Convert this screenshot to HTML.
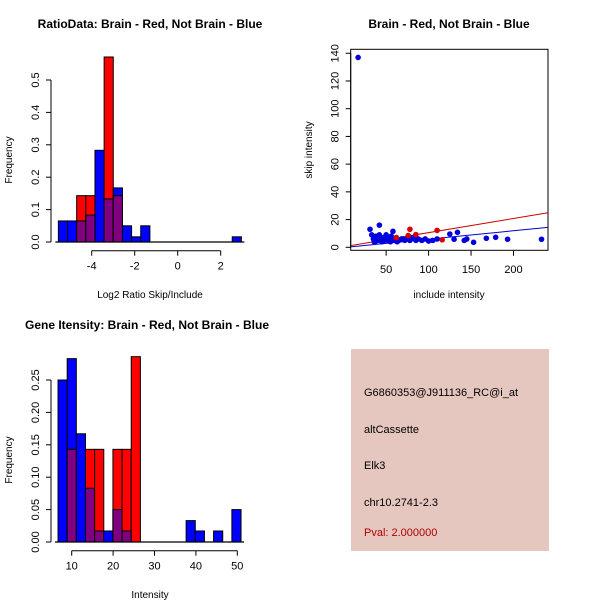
<!DOCTYPE html>
<html><head><meta charset="utf-8"><style>
html,body{margin:0;padding:0;background:#fff;}
svg{display:block;font-family:"Liberation Sans",Arial,sans-serif;}
</style></head><body>
<svg id="c" width="600" height="600" xmlns="http://www.w3.org/2000/svg">
<rect width="600" height="600" fill="#fff"/>
<rect x="351" y="349" width="198" height="202" fill="#e5c7c0"/>
<text x="364" y="396" font-size="11">G6860353@J911136_RC@i_at</text>
<text x="364" y="433" font-size="11">altCassette</text>
<text x="364" y="469" font-size="11">Elk3</text>
<text x="364" y="506" font-size="11">chr10.2741-2.3</text>
<text x="364" y="536" font-size="11" fill="#b00000">Pval: 2.000000</text>
</svg>
<script>
// ---- Ratio histogram data ----
const ratioStart = -5.55, ratioBinW = 0.4256;
const ratioBlue = [0.065,0.065,0.065,0.083,0.283,0.133,0.167,0.05,0.016,0.05,0,0,0,0,0,0,0,0,0,0.016];
const ratioRed  = [0,0,0.143,0.143,0,0.571,0.143,0,0,0,0,0,0,0,0,0,0,0,0,0];
const ratioXTicks = [-4,-2,0,2];
const ratioYTicks = [0,0.1,0.2,0.3,0.4,0.5];
const ratioYLabels = ["0.0","0.1","0.2","0.3","0.4","0.5"];
// ---- Intensity histogram data ----
const intStart = 6.7, intBinW = 2.21;
const intBlue = [0.25,0.283,0.167,0.083,0.017,0.017,0.05,0.017,0,0,0,0,0,0,0.033,0.017,0,0.017,0,0.05];
const intRed  = [0,0.143,0,0.143,0.143,0,0.143,0.143,0.286,0,0,0,0,0,0,0,0,0,0,0];
const intXTicks = [10,20,30,40,50];
const intYTicks = [0,0.05,0.10,0.15,0.20,0.25];
const intYLabels = ["0.00","0.05","0.10","0.15","0.20","0.25"];
// ---- Scatter data ----
const blueX = [17,31,33,35,36,38,40,42,42,44,45,47,48,50,52,53,55,56,58,60,62,65,68,72,75,80,85,88,92,96,100,105,110,125,130,134,142,145,153,168,179,193,233,37,46,54,63,70,78,84];
const blueY = [137,13,9,6,4,8,5,16,9,6,4,7,5,9,5,6,4,8,11.5,5,7,5,6,5,6,7,5,6,5,6,4.5,5,6,9.6,5.8,10.8,5,6,3.6,6.5,7.2,5.8,5.8,4,5,7,4,6,5,7];
const redX = [62,76,78,85,110,116];
const redY = [7,8.5,13,9.2,12.2,5.4];
const redFit = [0.38,0.102];
const blueFit = [-0.2,0.0607];
const scXTicks = [50,100,150,200];
const scYTicks = [0,20,40,60,80,100,120,140];

const svg = document.getElementById('c');
const NS = 'http://www.w3.org/2000/svg';
function mk(tag, attrs, parent){const e=document.createElementNS(NS,tag);for(const k in attrs)e.setAttribute(k,attrs[k]);(parent||svg).appendChild(e);return e;}
function txt(s,x,y,size,extra){const t=mk('text',Object.assign({x:x,y:y,'font-size':size,'text-anchor':'middle'},extra||{}));t.textContent=s;return t;}

function hist(prefix, start, bw, blue, red, sx, sy){
  const g = mk('g',{});
  
  
  for(let i=0;i<blue.length;i++){
    const x0=sx(start+i*bw), x1=sx(start+(i+1)*bw);
    const b=blue[i], r=red[i], m=Math.min(b,r);
    if(b>0){const e=mk('rect',{x:x0,y:sy(b),width:x1-x0,height:sy(0)-sy(b),fill:'#0000ff',stroke:'#000','stroke-width':1},g);
      
      }
    if(r>0){const e=mk('rect',{x:x0,y:sy(r),width:x1-x0,height:sy(0)-sy(r),fill:'#ff0000',stroke:'#000','stroke-width':1},g);
      
      }
    if(m>0){const e=mk('rect',{x:x0,y:sy(m),width:x1-x0,height:sy(0)-sy(m),fill:'#800080',stroke:'#000','stroke-width':1},g);
      
      }
  }
  const x0=sx(start), x1=sx(start+blue.length*bw);
  mk('line',{x1:x0-3,x2:x1+3,y1:sy(0),y2:sy(0),stroke:'#000','stroke-width':1.2},g);
}
function yAxis(prefix,x,ticks,labels,sy){
  const g=mk('g',{});
  
  
  mk('line',{x1:x,x2:x,y1:sy(ticks[0]),y2:sy(ticks[ticks.length-1]),stroke:'#000'},g);
  ticks.forEach((t,i)=>{const y=sy(t);mk('line',{x1:x-5,x2:x,y1:y,y2:y,stroke:'#000'},g);
    const l=txt(labels[i],x-12,y,11,{transform:'rotate(-90 '+(x-12)+' '+y+')'});g.appendChild(l);});
}
function xAxis(prefix,y,ticks,sx){
  const g=mk('g',{});
  
  
  mk('line',{x1:sx(ticks[0]),x2:sx(ticks[ticks.length-1]),y1:y,y2:y,stroke:'#000'},g);
  ticks.forEach(t=>{const x=sx(t);mk('line',{x1:x,x2:x,y1:y,y2:y+5,stroke:'#000'},g);g.appendChild(txt(String(t),x,y+19,11));});
}

// Plot 1
const r_sx=v=>177.7+v*21.5, r_sy=v=>242-v*324;
hist('ratio',ratioStart,ratioBinW,ratioBlue,ratioRed,r_sx,r_sy);
yAxis('ratio',51,ratioYTicks,ratioYLabels,r_sy);
xAxis('ratio',250.7,ratioXTicks,r_sx);
let t=txt('RatioData: Brain - Red, Not Brain - Blue',150,28,12,{'font-weight':'bold'});

t=txt('Log2 Ratio Skip/Include',150,298,10);

t=txt('Frequency',12,160,10,{transform:'rotate(-90 12 160)'});


// Plot 3
const i_sx=v=>71.7+(v-10)*4.14, i_sy=v=>542-v*648;
hist('intensity',intStart,intBinW,intBlue,intRed,i_sx,i_sy);
yAxis('intensity',51,intYTicks,intYLabels,i_sy);
xAxis('intensity',550.7,intXTicks,i_sx);
t=txt('Gene Itensity: Brain - Red, Not Brain - Blue',147,329,12,{'font-weight':'bold'});

t=txt('Intensity',150,598,10);

t=txt('Frequency',12,460,10,{transform:'rotate(-90 12 460)'});


// Scatter
const s_sx=v=>343.7+v*0.849, s_sy=v=>247.3-v*1.386;
const box=mk('rect',{x:350.7,y:49.3,width:197.3,height:201,fill:'none',stroke:'#000'});

const clip=mk('clipPath',{id:'sc'});mk('rect',{x:350.7,y:49.3,width:197.3,height:201},clip);
const fits=mk('g',{'clip-path':'url(#sc)'});
const xa=8,xb=241;
let ln=mk('line',{x1:s_sx(xa),y1:s_sy(redFit[0]+redFit[1]*xa),x2:s_sx(xb),y2:s_sy(redFit[0]+redFit[1]*xb),stroke:'#cc0000'},fits);

ln=mk('line',{x1:s_sx(xa),y1:s_sy(blueFit[0]+blueFit[1]*xa),x2:s_sx(xb),y2:s_sy(blueFit[0]+blueFit[1]*xb),stroke:'#0000cc'},fits);

blueX.forEach((x,i)=>{const c=mk('circle',{cx:s_sx(x),cy:s_sy(blueY[i]),r:2.8,fill:'#0000dd'});
  });
redX.forEach((x,i)=>{const c=mk('circle',{cx:s_sx(x),cy:s_sy(redY[i]),r:2.8,fill:'#dd0000'});
  });
yAxis('scatter',350.7,scYTicks,scYTicks.map(String),s_sy);
(function(){const g=mk('g',{});
  scXTicks.forEach(v=>{const x=s_sx(v);mk('line',{x1:x,x2:x,y1:250.7,y2:255.7,stroke:'#000'},g);g.appendChild(txt(String(v),x,273,11));});})();
t=txt('Brain - Red, Not Brain - Blue',449,28,12,{'font-weight':'bold'});

t=txt('include intensity',449,298,10);

t=txt('skip intensity',312,150,10,{transform:'rotate(-90 312 150)'});

</script>
</body></html>
